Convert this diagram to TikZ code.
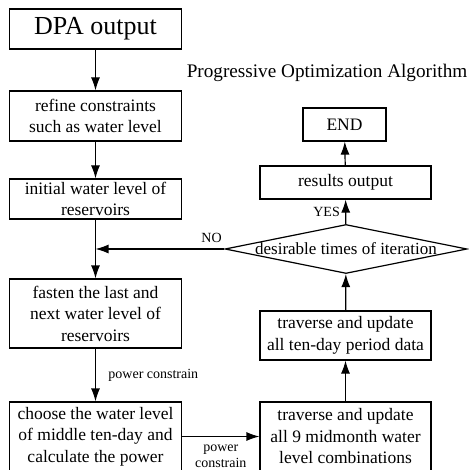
\documentclass[tikz,border=0pt]{standalone}
\usepackage{fontspec}
\setmainfont{Liberation Serif}
\usetikzlibrary{shapes.geometric,arrows.meta,positioning}

\begin{document}
\begin{tikzpicture}[
    x=1pt, y=-1pt,
    block/.style={draw, line width=1.2pt, minimum width=172pt, align=center, inner sep=2pt, font=\fontsize{17.5}{21.5}\selectfont},
    decision/.style={draw, diamond, line width=1.2pt, minimum width=242pt, minimum height=49pt, inner sep=0pt},
    note/.style={font=\fontsize{14}{16}\selectfont, align=center},
    arrow/.style={line width=1.2pt, -{Latex[length=13pt,width=9pt]}}
]
    \useasboundingbox (0,0) rectangle (468,470);

    % left column
    \node (dpa) [block, minimum height=40pt, font=\fontsize{26}{29}\selectfont] at (95.5,29) {DPA output};
    \node (refine) [block, minimum height=50pt] at (95.5,116) {refine constraints\\such as water level};
    \node (init) [block, minimum height=40pt] at (95.5,199) {initial water level of\\reservoirs};
    \node (fasten) [block, minimum height=69pt] at (95.5,313.5) {fasten the last and\\next water level of\\reservoirs};
    \node (choose) [block, minimum height=69pt] at (95.5,436.5) {choose the water level\\of middle ten-day and\\calculate the power};

    % right column
    \node (title) [font=\fontsize{19.2}{22}\selectfont] at (327,73) {Progressive Optimization Algorithm};
    \node (end) [block, minimum width=83pt, minimum height=33pt] at (344.5,124.5) {END};
    \node (results) [block, minimum width=171pt, minimum height=33pt] at (345.5,182.5) {results output};
    \node (iter) [decision, label={[font=\fontsize{17}{20}\selectfont]center:desirable times of iteration}] at (346,249) {};
    \node (trav1) [block, minimum width=171pt, minimum height=49pt] at (345.5,335.5) {traverse and update\\all ten-day period data};
    \node (trav2) [block, minimum width=171pt, minimum height=69pt] at (345.5,436.5) {traverse and update\\all 9 midmonth water\\level combinations};

    \coordinate (join) at (init.south |- iter.west);

    \draw [arrow] (dpa) -- (refine);
    \draw [arrow] (refine) -- (init);
    \draw [arrow] (init) -- (fasten);
    \draw [arrow] (fasten) -- node[note, right=9pt] {power constrain} (choose);
    \draw [arrow] (choose.east |- trav2.west) -- node[note, below=4pt] {power\\constrain} (trav2.west);
    \draw [arrow] (trav2) -- (trav1);
    \draw [arrow] (trav1) -- (iter);
    \draw [arrow] (iter) -- node[note, left=2pt] {YES} (results);
    \draw [arrow] (results) -- (end);
    \draw [arrow] (iter.west) -- node[note, above=2pt, pos=0.1] {NO} (join);
\end{tikzpicture}
\end{document}
